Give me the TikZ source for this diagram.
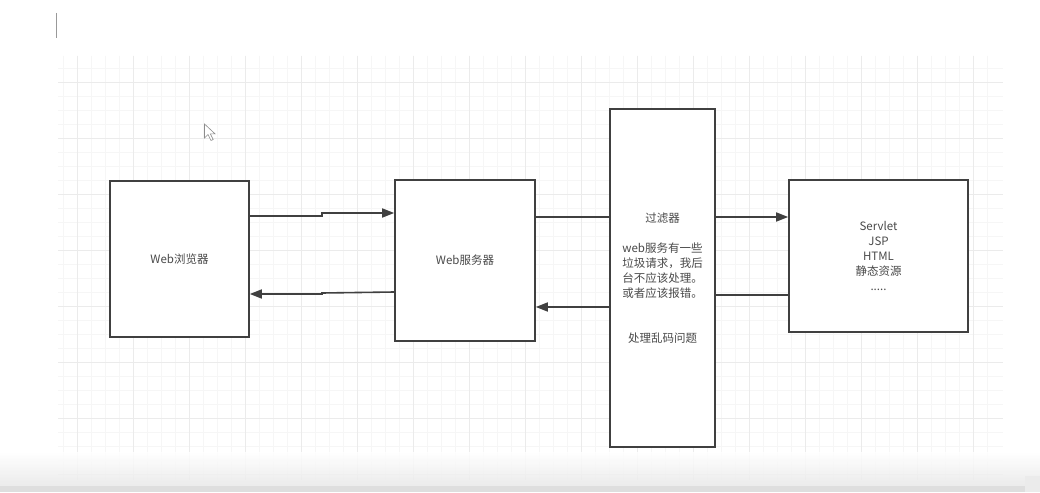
\documentclass[tikz,border=0pt]{standalone}
\usepackage{fontspec}
\setmainfont{Noto Sans CJK SC}
\usetikzlibrary{arrows.meta}
\definecolor{ink}{HTML}{404040}
\definecolor{txt}{HTML}{4A4A4A}
\definecolor{gmin}{HTML}{F6F6F6}
\definecolor{gmaj}{HTML}{EBEBEB}
\tikzset{
  box/.style={draw=ink, line width=1.6pt, fill=white, inner sep=0pt, font=\fontsize{11.5}{15}\selectfont, text=txt, align=center},
  conn/.style={draw=ink, line width=1.6pt},
  arr/.style={conn, -{Triangle[length=12pt,width=9pt]}},
}
\begin{document}
\begin{tikzpicture}[x=1pt,y=-1pt]
\useasboundingbox (0,0) rectangle (1040,492);
\fill[white] (0,0) rectangle (1040,492);
% grid
\foreach \x in {63,77,...,1000} \draw[gmin, line width=0.6pt] (\x,56) -- (\x,480);
\foreach \y in {68,82,...,480} \draw[gmin, line width=0.6pt] (58,\y) -- (1003,\y);
\foreach \x in {77,133,...,1000} \draw[gmaj, line width=0.8pt] (\x,56) -- (\x,480);
\foreach \y in {82,138,...,480} \draw[gmaj, line width=0.8pt] (58,\y) -- (1003,\y);
% text cursor and mouse pointer
\draw[gray!80, line width=1pt] (56,13) -- (56,38);
\draw[gray!90, line width=0.6pt, fill=white] (204.5,124) -- (204.5,138) -- (208,134.5) -- (211,140.5) -- (213.2,139.5) -- (210.3,133.8) -- (215,133.8) -- cycle;
% bottom fade (below the boxes)
\shade[top color=white, bottom color=black!9, opacity=0.85] (0,452) rectangle (1040,486);
\fill[black!13] (0,486) rectangle (1040,492);
\fill[black!8] (1025,476) rectangle (1040,492);
% nodes
\node[box, minimum width=139pt, minimum height=156pt] (b) at (179.5,259) {Web浏览器};
\node[box, minimum width=140pt, minimum height=161pt] (s) at (465,260.5) {Web服务器};
\node[box, minimum width=105pt, minimum height=338pt] (f) at (662.5,278) {过滤器\\[15pt]web服务有一些\\垃圾请求，我后\\台不应该处理。\\或者应该报错。\\[30pt]处理乱码问题};
\node[box, minimum width=179pt, minimum height=152pt] (v) at (878.5,256) {Servlet\\JSP\\HTML\\静态资源\\.....};
% connectors
\coordinate (m1) at (322,216);
\coordinate (m2) at (322,293);
\draw[arr] (b.east |- 0,216) -- (m1) -- (322,213) -- (s.west |- 0,213);
\draw[arr] (s.west |- 0,292) -- (m2) -- (322,294) -- (b.east |- 0,294);
\draw[conn] (s.east |- 0,217) -- (f.west |- 0,217);
\draw[arr] (f.east |- 0,217) -- (v.west |- 0,217);
\draw[conn] (v.west |- 0,295) -- (f.east |- 0,295);
\draw[arr] (f.west |- 0,307) -- (s.east |- 0,307);
\end{tikzpicture}
\end{document}
